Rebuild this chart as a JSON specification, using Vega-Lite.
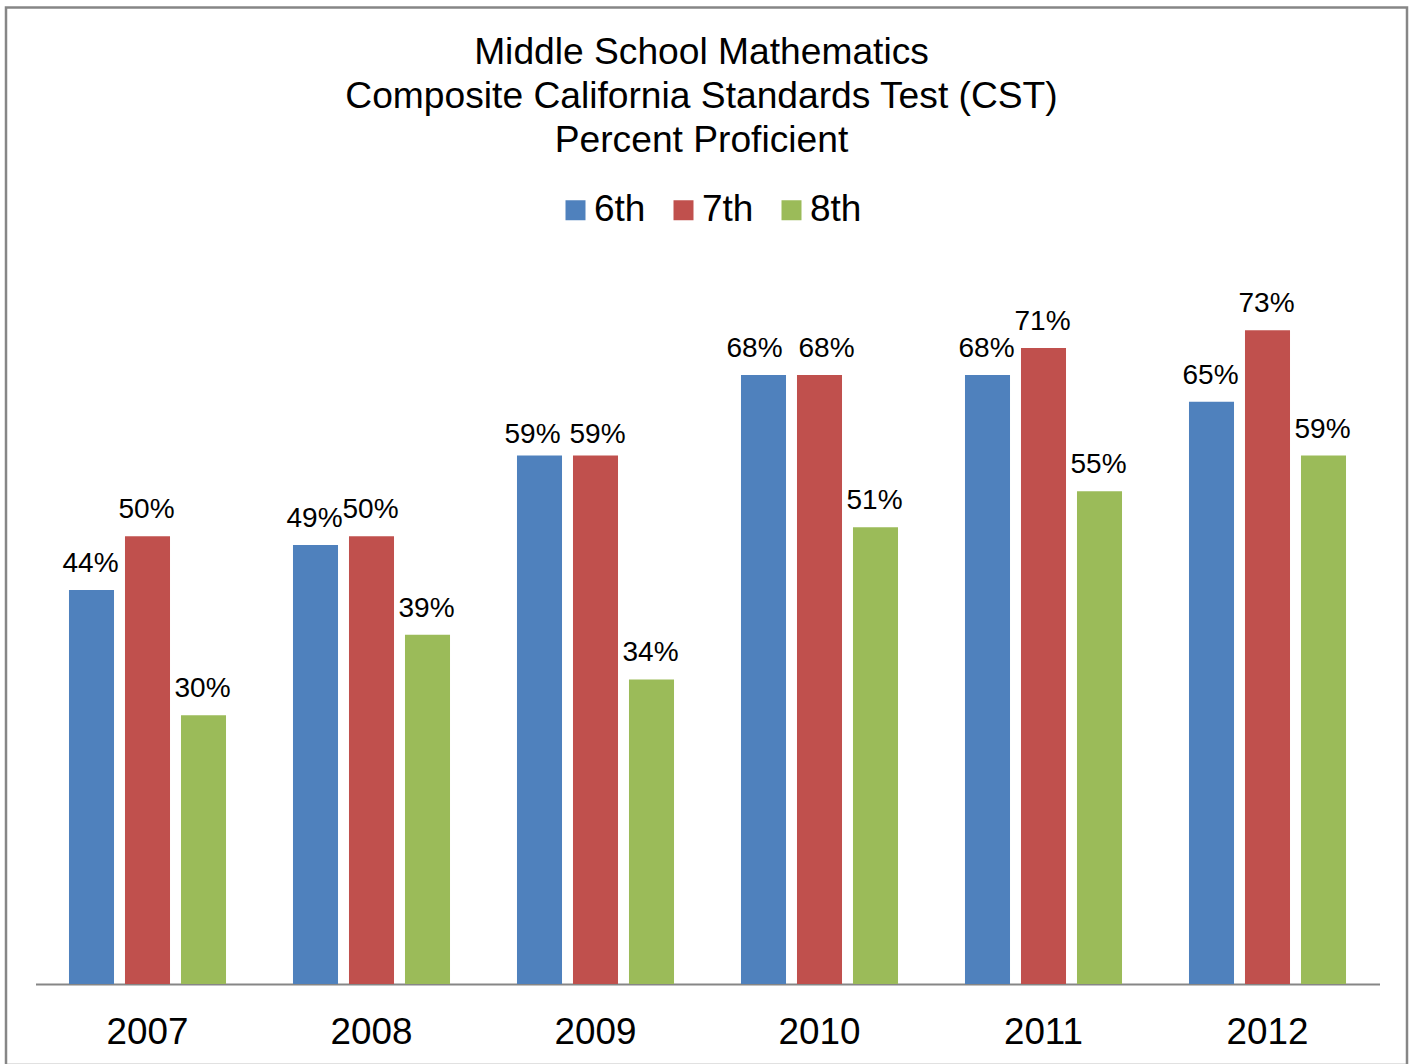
{
  "$schema": "https://vega.github.io/schema/vega-lite/v6.json",
  "autosize": {"type": "none"},
  "padding": {"left": 6, "top": 7.5, "right": 5, "bottom": -1},
  "width": 1401,
  "height": 1057.5,
  "background": "white",
  "title": {
    "text": ["Middle School Mathematics", "Composite California Standards Test (CST)", "Percent Proficient"],
    "anchor": "middle",
    "frame": "group",
    "orient": "top",
    "baseline": "top",
    "offset": -152.5,
    "dx": -5,
    "font": "Liberation Sans",
    "fontSize": 37.2,
    "fontWeight": "normal",
    "lineHeight": 44,
    "color": "black"
  },
  "data": {
    "values": [
      {"year": "2007", "grade": "6th", "pct": 44, "label": "44%"},
      {"year": "2007", "grade": "7th", "pct": 50, "label": "50%"},
      {"year": "2007", "grade": "8th", "pct": 30, "label": "30%"},
      {"year": "2008", "grade": "6th", "pct": 49, "label": "49%"},
      {"year": "2008", "grade": "7th", "pct": 50, "label": "50%"},
      {"year": "2008", "grade": "8th", "pct": 39, "label": "39%"},
      {"year": "2009", "grade": "6th", "pct": 59, "label": "59%"},
      {"year": "2009", "grade": "7th", "pct": 59, "label": "59%"},
      {"year": "2009", "grade": "8th", "pct": 34, "label": "34%"},
      {"year": "2010", "grade": "6th", "pct": 68, "label": "68%"},
      {"year": "2010", "grade": "7th", "pct": 68, "label": "68%"},
      {"year": "2010", "grade": "8th", "pct": 51, "label": "51%"},
      {"year": "2011", "grade": "6th", "pct": 68, "label": "68%"},
      {"year": "2011", "grade": "7th", "pct": 71, "label": "71%"},
      {"year": "2011", "grade": "8th", "pct": 55, "label": "55%"},
      {"year": "2012", "grade": "6th", "pct": 65, "label": "65%"},
      {"year": "2012", "grade": "7th", "pct": 73, "label": "73%"},
      {"year": "2012", "grade": "8th", "pct": 59, "label": "59%"}
    ]
  },
  "encoding": {
    "x": {
      "field": "year",
      "type": "nominal",
      "scale": {"range": [29.5, 1373.5], "paddingInner": 0, "paddingOuter": 0},
      "axis": {
        "orient": "bottom",
        "offset": -81,
        "title": null,
        "labelAngle": 0,
        "ticks": false,
        "domainColor": "#868686",
        "domainWidth": 2,
        "labelFont": "Liberation Sans",
        "labelFontSize": 36.8,
        "labelColor": "black",
        "labelPadding": 30,
        "grid": false
      }
    },
    "xOffset": {
      "field": "grade",
      "type": "nominal",
      "scale": {"paddingInner": 0.196, "paddingOuter": 0.598}
    },
    "y": {
      "field": "pct",
      "type": "quantitative",
      "scale": {"domain": [-9.043, 109.02], "nice": false, "zero": false},
      "axis": null
    }
  },
  "layer": [
    {
      "mark": {"type": "bar"},
      "encoding": {
        "y2": {"datum": 0},
        "color": {
          "field": "grade",
          "type": "nominal",
          "scale": {"domain": ["6th", "7th", "8th"], "range": ["#4F81BD", "#C0504D", "#9BBB59"]},
          "legend": {
            "title": null,
            "orient": "none",
            "legendX": 551,
            "legendY": 184,
            "direction": "horizontal",
            "symbolType": "square",
            "symbolSize": 400,
            "symbolStrokeWidth": 0,
            "labelFont": "Liberation Sans",
            "labelFontSize": 37,
            "labelColor": "black",
            "labelOffset": 0,
            "columnPadding": 19,
            "padding": 0
          }
        }
      }
    },
    {
      "transform": [{"filter": "!(datum.year == '2009' && datum.grade != '8th') && !(datum.year == '2010' && datum.grade != '8th')"}],
      "mark": {"type": "text", "baseline": "alphabetic", "dy": -18, "dx": -1, "font": "Liberation Sans", "fontSize": 28, "color": "black"},
      "encoding": {"text": {"field": "label"}}
    },
    {
      "transform": [{"filter": "datum.year == '2009' && datum.grade == '6th'"}],
      "mark": {"type": "text", "baseline": "alphabetic", "dy": -13, "dx": -7, "font": "Liberation Sans", "fontSize": 28, "color": "black"},
      "encoding": {"text": {"field": "label"}}
    },
    {
      "transform": [{"filter": "datum.year == '2009' && datum.grade == '7th'"}],
      "mark": {"type": "text", "baseline": "alphabetic", "dy": -13, "dx": 2, "font": "Liberation Sans", "fontSize": 28, "color": "black"},
      "encoding": {"text": {"field": "label"}}
    },
    {
      "transform": [{"filter": "datum.year == '2010' && datum.grade == '6th'"}],
      "mark": {"type": "text", "baseline": "alphabetic", "dy": -18, "dx": -9, "font": "Liberation Sans", "fontSize": 28, "color": "black"},
      "encoding": {"text": {"field": "label"}}
    },
    {
      "transform": [{"filter": "datum.year == '2010' && datum.grade == '7th'"}],
      "mark": {"type": "text", "baseline": "alphabetic", "dy": -18, "dx": 7, "font": "Liberation Sans", "fontSize": 28, "color": "black"},
      "encoding": {"text": {"field": "label"}}
    }
  ],
  "config": {
    "view": {"stroke": "#868686", "strokeWidth": 2.5, "fill": "white"}
  }
}
